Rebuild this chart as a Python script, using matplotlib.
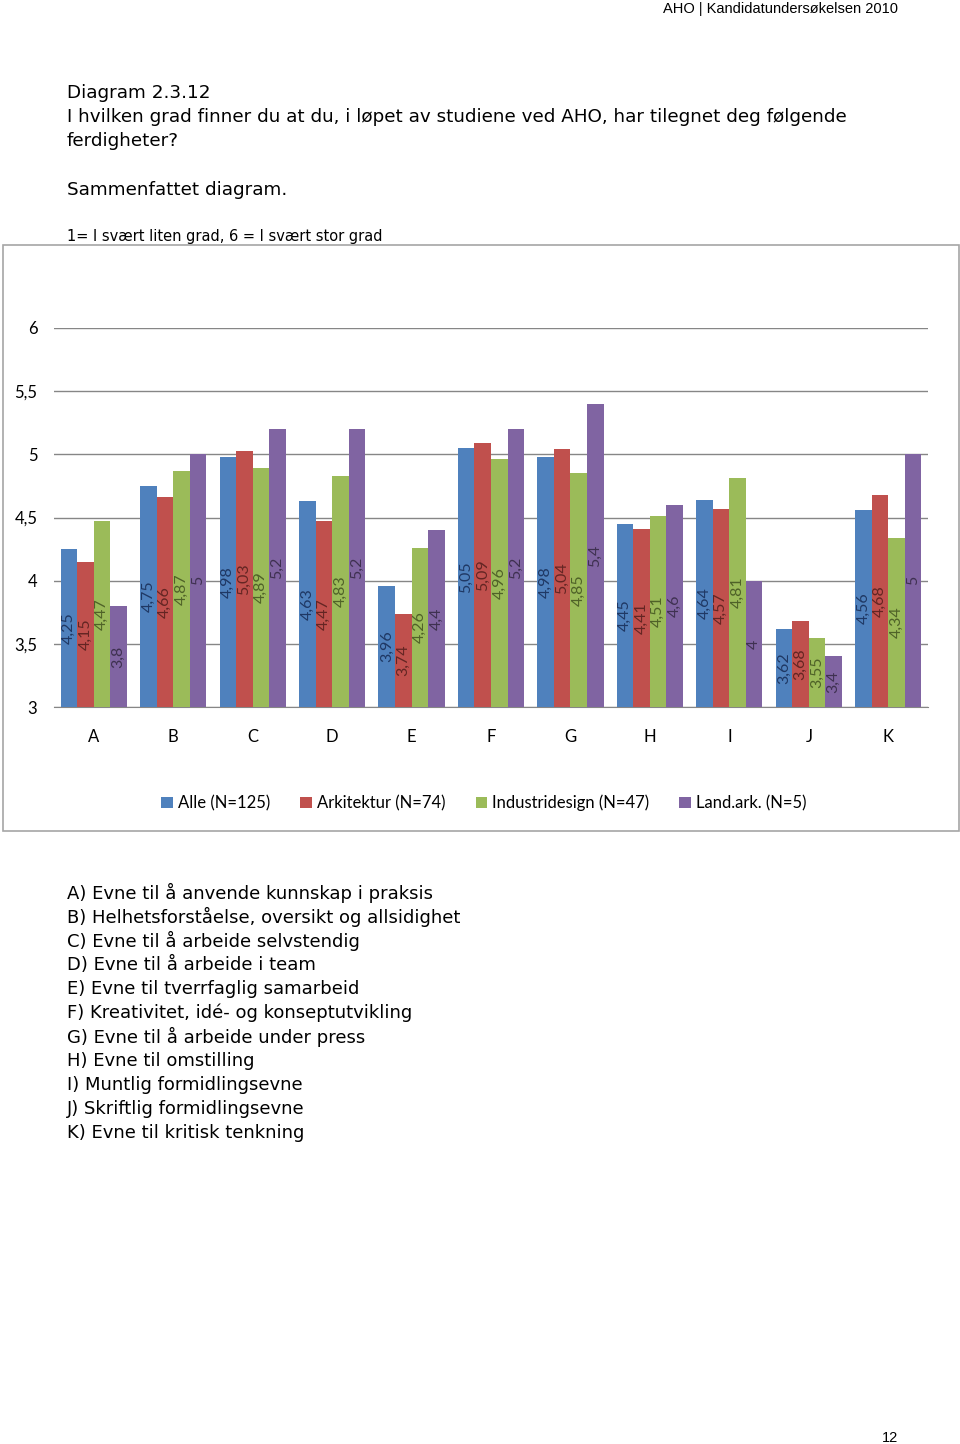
import numpy as np
import matplotlib.pyplot as plt
from matplotlib.patches import Rectangle

# Data
categories = ['A', 'B', 'C', 'D', 'E', 'F', 'G', 'H', 'I', 'J', 'K']
series_names = ['Alle (N=125)', 'Arkitektur (N=74)', 'Industridesign (N=47)', 'Land.ark. (N=5)']
alle = [4.25, 4.75, 4.98, 4.63, 3.96, 5.05, 4.98, 4.45, 4.64, 3.62, 4.56]
arkitektur = [4.15, 4.66, 5.03, 4.47, 3.74, 5.09, 5.04, 4.41, 4.57, 3.68, 4.68]
industridesign = [4.47, 4.87, 4.89, 4.83, 4.26, 4.96, 4.85, 4.51, 4.81, 3.55, 4.34]
landark = [3.8, 5, 5.2, 5.2, 4.4, 5.2, 5.4, 4.6, 4, 3.4, 5]
y_ticks = [3, 3.5, 4, 4.5, 5, 5.5, 6]

list_lines = [
    'A) Evne til å anvende kunnskap i praksis',
    'B) Helhetsforståelse, oversikt og allsidighet',
    'C) Evne til å arbeide selvstendig',
    'D) Evne til å arbeide i team',
    'E) Evne til tverrfaglig samarbeid',
    'F) Kreativitet, idé- og konseptutvikling',
    'G) Evne til å arbeide under press',
    'H) Evne til omstilling',
    'I) Muntlig formidlingsevne',
    'J) Skriftlig formidlingsevne',
    'K) Evne til kritisk tenkning',
]

colors = ['#4F81BD', '#C0504D', '#9BBB59', '#8064A2']
label_colors = ['#1F3864', '#632523', '#4F6228', '#3F3151']


def fmt(v):
    s = ('%.2f' % v).rstrip('0').rstrip('.')
    return s.replace('.', ',')


W, H = 960, 1444
fig = plt.figure(figsize=(W / 100, H / 100), dpi=100)

# ramme rundt diagrammet
fig.patches.append(Rectangle((3 / W, 1 - 831 / H), 956 / W, 586 / H,
                             transform=fig.transFigure, fill=False,
                             edgecolor='#A6A6A6', linewidth=1.2))

ax = fig.add_axes([54 / W, 1 - 707 / H, 874 / W, 379 / H])

data = [alle, arkitektur, industridesign, landark]
x = np.arange(len(categories))
bw = 0.208
for i, vals in enumerate(data):
    pos = x + (i - 1.5) * bw
    ax.bar(pos, np.array(vals) - 3, bw, bottom=3, color=colors[i],
           label=series_names[i], zorder=3)
    for p, v in zip(pos, vals):
        ax.text(p, (v + 3) / 2, fmt(v), rotation=90, ha='center', va='center',
                fontsize=11.5, color=label_colors[i], zorder=4, family='Lato')

ax.set_ylim(3, 6)
ax.set_xlim(-0.5, len(categories) - 0.5)
ax.set_yticks(y_ticks)
ax.set_yticklabels([fmt(t) for t in y_ticks], fontsize=12, family='Lato')
ax.set_xticks(x)
ax.set_xticklabels(categories, fontsize=12, family='Lato')
ax.tick_params(axis='both', length=0)
ax.tick_params(axis='y', pad=12)
ax.tick_params(axis='x', pad=16)
ax.grid(axis='y', color='#868686', linewidth=1, zorder=0)
for s in ['top', 'right', 'left']:
    ax.spines[s].set_visible(False)
ax.spines['bottom'].set_color('#868686')

ax.legend(loc='center', bbox_to_anchor=(484 / W, 1 - 803 / H),
          bbox_transform=fig.transFigure, ncol=4, frameon=False,
          prop={'family': 'Lato', 'size': 12}, handlelength=0.7, handleheight=0.7,
          handletextpad=0.3, columnspacing=1.8)

# tekst
fig.text(898 / W, 1 - 9 / H, 'AHO | Kandidatundersøkelsen 2010', ha='right',
         va='center', fontsize=10.5, family='Liberation Sans')
title_lines = ['Diagram 2.3.12',
               'I hvilken grad finner du at du, i løpet av studiene ved AHO, har tilegnet deg følgende',
               'ferdigheter?']
for k, t in enumerate(title_lines):
    fig.text(67 / W, 1 - (93 + 24 * k) / H, t, ha='left', va='center', fontsize=13.2)
fig.text(67 / W, 1 - 190 / H, 'Sammenfattet diagram.', ha='left', va='center', fontsize=13.2)
fig.text(67 / W, 1 - 236 / H, '1= I svært liten grad, 6 = I svært stor grad', ha='left',
         va='center', fontsize=10.5)

for k, t in enumerate(list_lines):
    fig.text(67 / W, 1 - (893 + 24 * k) / H, t, ha='left', va='center', fontsize=13)

fig.text(890 / W, 1 - 1438 / H, '12', ha='center', va='center', fontsize=10.5,
         family='Liberation Sans')

fig.savefig('out.png', dpi=100)
